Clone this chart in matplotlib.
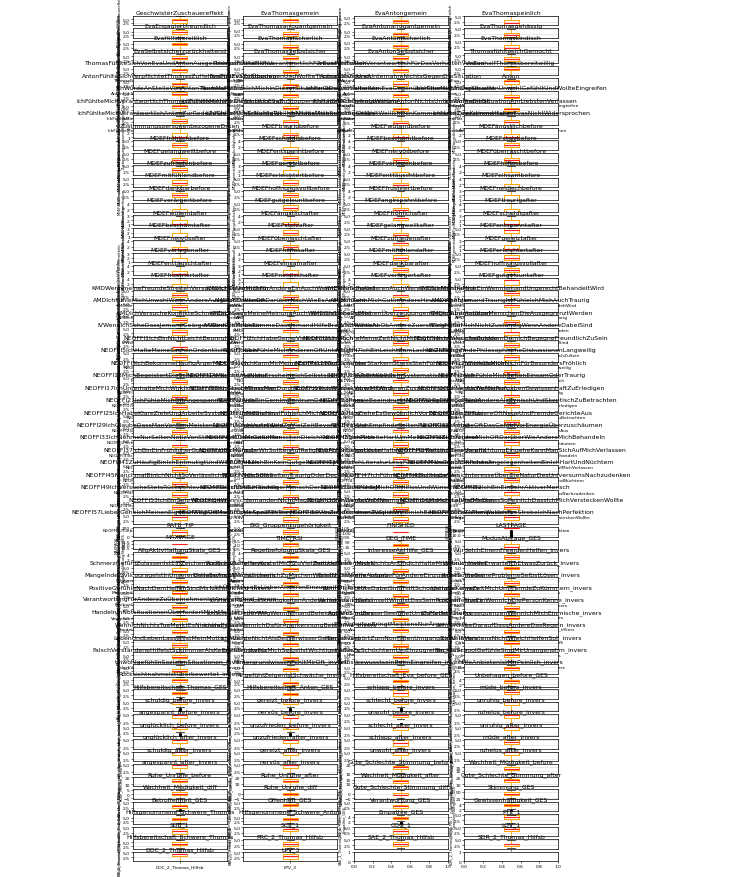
import matplotlib
matplotlib.use("Agg")
import matplotlib.pyplot as plt

plt.rcParams['font.family'] = ['DejaVu Sans']

names = [
    # rows 1-4
    "GeschwisterZuschauereffekt", "EvaThomasgemein", "EvaAntongemein", "EvaThomaspeinlich",
    "EvaEngagiertfreundlich", "EvaThomasarrogantgemein", "EvaAntonarrogantgemein", "EvaThomasgehässig",
    "EvaHilfsbereitlich", "EvaThomaslächerlich", "EvaAntonlächerlich", "EvaThomaskindisch",
    "EvaSelbstsicherzurückhaltend", "EvaThomasSelbstsicher", "EvaAntonSelbstsicher", "ThomasfühltesichGemocht",
    # rows 5-9
    "ThomasFühlteSichVonEvaUndAntonAusgeschlossenUndHilflos", "ThomasFühlteSichVerantwortlichFürEvasVerhalten",
    "AntonFühlteSichVerantwortlichFürDasVerhaltenVonEva", "AntonhalfThomasbereitwillig",
    "AntonFühlteSichVerpflichtetThomasZuHelfenUndEvaZuStoppen", "EvaFühlteSichÜberlegenUndWollteThomasBlamieren",
    "AntonSahZuUndUnternahmNichtsGegenDieSituation", "Anton",
    "IchWürdeAnStelleVonAntonThomasHelfen", "NochMalWürdeIchMichInDieserSituationGenausoVerhalten",
    "IchFandDasVerhaltenVonEvaGegenüberThomasUnangebracht", "IchHabeMichInDerSituationUnwohlGefühltUndWollteEingreifen",
    "IchFühlteMichVerantwortlichThomasZuHelfenAlsIchDieSituationSah", "IchFühlteMichVerantwortlichEvaZuStoppenAlsIchDieKommentareHörte",
    "IchHabeMichGefragtWarumAntonNichtsUnternommenHat", "IchWollteDieSituationAmLiebstenVerlassen",
    "IchFühlteMichVerantwortlichAntonZurRedeZuStellenAlsErNichtsTat", "IchFühlteMichSchuldigWeilIchNichtsUnternommenHabe",
    "IchHabeMichSchuldigGefühltWeilIchDenKommentarenZugestimmtHabe", "IchHabeDenKommentarenEvasNichtWidersprochen",
    # row 10 col 1
    "ZustimmungspersonenbezogeneDaten",
    # MDEF before (26)
    "MDEFtraurigbefore", "MDEFwütendbefore", "MDEFängstlichbefore", "MDEFfröhlichbefore",
    "MDEFschuldigbefore", "MDEFbeschämtbefore", "MDEFstolzbefore", "MDEFgelangweiltbefore",
    "MDEFentspanntbefore", "MDEFnervösbefore", "MDEFüberraschtbefore", "MDEFzufriedenbefore",
    "MDEFgereiztbefore", "MDEFverlegenbefore", "MDEFhilflosbefore", "MDEFmitfühlendbefore",
    "MDEFerleichtertbefore", "MDEFenttäuschtbefore", "MDEFeinsambefore", "MDEFdankbarbefore",
    "MDEFhoffnungsvollbefore", "MDEFfrustriertbefore", "MDEFneidischbefore", "MDEFverärgertbefore",
    "MDEFgutgelauntbefore", "MDEFangespanntbefore",
    # MDEF after (25)
    "MDEFtraurigafter", "MDEFwütendafter", "MDEFängstlichafter", "MDEFfröhlichafter",
    "MDEFschuldigafter", "MDEFbeschämtafter", "MDEFstolzafter", "MDEFgelangweiltafter",
    "MDEFentspanntafter", "MDEFnervösafter", "MDEFüberraschtafter", "MDEFzufriedenafter",
    "MDEFgereiztafter", "MDEFverlegenafter", "MDEFhilflosafter", "MDEFmitfühlendafter",
    "MDEFerleichtertafter", "MDEFenttäuschtafter", "MDEFeinsamafter", "MDEFdankbarafter",
    "MDEFhoffnungsvollafter", "MDEFfrustriertafter", "MDEFneidischafter", "MDEFverärgertafter",
    "MDEFgutgelauntafter",
    # rows 23-41 (76)
    "KMDWennmeineFreundeStreitenVersucheIchZuVermitteln", "KMDIchSetzeMichFürAndereEinAuchWennEsMirSchadet",
    "KMDIchHelfeAnderenAuchWennIchSieNichtKenne", "KMDIchMischeMichEinWennJemandUngerechtBehandeltWird",
    "AMDIchFühleMichUnwohlWennAndereAusgelachtWerden", "AMDIchDenkeOftDarüberNachWieEsAnderenGeht",
    "AMDIchKannMichGutInAndereHineinversetzen", "AMDWennJemandTraurigIstFühleIchMichAuchTraurig",
    "KMDIchVersucheKonflikteSchnellZuLösen", "KMDIchSageMeineMeinungAuchWennSieUnbeliebtIst",
    "KMDIchSteheZuMeinenÜberzeugungenGegenüberAnderen", "KMDIchUnterstützeMenschenDieAusgegrenztWerden",
    "IVWennIchSeheDassJemandGeärgertWirdGreifeIchEin", "IVWennIchMitbekommeDassJemandHilfeBrauchtHelfeIch",
    "IVIchWarteAbObAndereZuerstEingreifen", "IVIchFühleMichNichtZuständigWennAndereDabeiSind",
    "NEOFFI1IchBinNichtLeichtBeunruhigt", "NEOFFI2IchHabeGerneVieleLeuteUmMich",
    "NEOFFI3IchMöchteMeineZeitNichtMitTagträumenVerschwenden", "NEOFFI4IchVersucheZuJedemDemIchBegegneFreundlichZuSein",
    "NEOFFI5IchHalteMeineSachenOrdentlichUndSauber", "NEOFFI6IchFühleMichAnderenOftUnterlegen",
    "NEOFFI7IchBinLeichtZumLachenZuBringen", "NEOFFI8IchFindePhilosophischeDiskussionenLangweilig",
    "NEOFFI9IchBekommeHäufigÄrgerMitAnderen", "NEOFFI10IchKannMirMeineZeitRechtGutEinteilen",
    "NEOFFI11WennIchUnterStarkemStressStehFühleIchMichWieAufgelöst", "NEOFFI12IchHalteMichNichtFürBesondersFröhlich",
    "NEOFFI13MichBegeistertDieSchönheitDerKunstUndNatur", "NEOFFI14ManchenLeutenErscheineIchSelbstsüchtigUndÜberheblich",
    "NEOFFI15IchBinKeinSehrSystematischerMensch", "NEOFFI16IchFühleMichSeltenEinsamOderTraurig",
    "NEOFFI17IchUnterhalteMichWirklichGernMitAnderenMenschen", "NEOFFI18IchGlaubeDassManDurchKontroverseRednerVerwirrtWird",
    "NEOFFI19IchWürdeLieberMitAnderenZusammenarbeitenAlsWetteifern", "NEOFFI20IchVersucheAlleAufgabenGewissenhaftZuErledigen",
    "NEOFFI21IchFühleMichOftAngespanntUndNervös", "NEOFFI22IchBinGernImZentrumDesGeschehens",
    "NEOFFI23PoesieBeeindrucktMichWenigOderGarNicht", "NEOFFI24IchNeigeDazuAndereAlsZynischUndSkeptischZuBetrachten",
    "NEOFFI25IchHabeKlareZieleUndArbeiteSystematischAufSieHin", "NEOFFI26ManchmalFühleIchMichVölligWertlos",
    "NEOFFI27IchZieheEsGewöhnlichVorDingeAlleinZuTun", "NEOFFI28IchProbiereOftNeueUndFremdeGerichteAus",
    "NEOFFI29IchGlaubeDassManVonDenMeistenLeutenAusgenutztWird", "NEOFFI30IchVertrödeleZuVielZeitBevorIchBeginne",
    "NEOFFI31IchEmpfindeSeltenFurchtOderAngst", "NEOFFI32IchHabeOftDasGefühlVorEnergieÜberzuschäumen",
    "NEOFFI33IchNehmeNurSeltenNotizVonStimmungenOderGefühlen", "NEOFFI34DieMeistenMenschenDieIchKenneMögenMich",
    "NEOFFI35IchArbeiteHartUmMeineZieleZuErreichen", "NEOFFI36IchÄrgereMichOftDarüberWieAndereMichBehandeln",
    "NEOFFI37IchBinEinFröhlicherGutgelaunterMensch", "NEOFFI38IchGlaubeWirSolltenAufReligiöseAutoritätenHören",
    "NEOFFI39EinigeLeuteHaltenMichFürKaltUndBerechnend", "NEOFFI40WennIchEineVerpflichtungEingeheKannManSichAufMichVerlassen",
    "NEOFFI41ZuHäufigBinIchEntmutigtUndWillAufgeben", "NEOFFI42IchBinKeinGutgelaunterOptimist",
    "NEOFFI43WennIchLiteraturLeseFühleIchManchmalEinFrösteln", "NEOFFI44InGeschäftlichenAngelegenheitenBinIchHartUndNüchtern",
    "NEOFFI45ManchmalBinIchNichtSoVerlässlichWieIchSeinSollte", "NEOFFI46IchBinSeltenTraurigOderDeprimiert",
    "NEOFFI47IchFühreEinHektischesLeben", "NEOFFI48IchHabeWenigInteresseÜberDieNaturDesUniversumsNachzudenken",
    "NEOFFI49IchVersucheStetsRücksichtsvollUndSensibelZuHandeln", "NEOFFI50IchBinEinTüchtigerMenschDerSeineArbeitErledigt",
    "NEOFFI51IchFühleMichOftHilflosUndWünscheMirHilfe", "NEOFFI52IchBinEinSehrAktiverMensch",
    "NEOFFI53IchBinSehrWissbegierig", "NEOFFI54WennIchJemandenNichtMagZeigeIchIhmDasAuchOffen",
    "NEOFFI55IchWerdeWohlNiemalsOrdnungInMeinLebenBringen", "NEOFFI56ManchmalWarMirEtwasSoPeinlichDassIchMichVersteckenWollte",
    "NEOFFI57LieberGeheIchMeinenEigenenWegAlsEineGruppeAnzuführen", "NEOFFI58OftMachtEsMirSpaßMitTheorienOderAbstraktenIdeenZuSpielen",
    "NEOFFI59UmZuBekommenWasIchWillBinIchBereitAndereZuManipulieren", "NEOFFI60BeiAllemWasIchTueStrebeIchNachPerfektion",
    # rows 42-44 (12)
    "RATE_TIP", "BIG_Gruppenzugehörigkeit", "FINISHED", "LASTPAGE",
    "MAXPAGE", "TIME_RSI", "DEG_TIME", "ModusAbfrage_GES",
    "AllgAktivHaltungSkala_GES", "RegelbefolgungSkala_GES", "InteresseAnHilfe_GES", "WürdeIchEinemFremdenHelfen_invers",
    # rows 45-54 (38)
    "SchmerzGefühlZulassenIstEinZeichenVonSchwäche_invers", "AnderenZuHelfenKostetMichZuVielZeitUndKraft_invers",
    "FremdeGehenMichNichtsAnUndIchHalteMichRaus_invers", "WennIchHelfeErwarteIchEtwasZurück_invers",
    "MangelndeZivilcourageIstInUnsererGesellschaftNormal_invers", "IchHabeAngstMichLächerlichZuMachenWennIchEingreife_invers",
    "EsIstNichtMeineAufgabeFürAndereEinzustehen_invers", "JederSollteSeineProblemeSelbstLösen_invers",
    "PositiveGefühleNachDemHelfenSindMirNichtWichtig_invers", "IchÜberlasseEsLieberAnderenEinzugreifen_invers",
    "WennVieleLeuteDabeiSindHilftSchonJemand_invers", "IchHabeKeineZeitMichUmFremdeZuKümmern_invers",
    "VerantwortungFürAndereZuÜbernehmenIstAnstrengend_invers", "IchHalteMichAusStreitigkeitenAndererHeraus_invers",
    "WennJemandGehänseltWirdIstDasSeinProblem_invers", "IchGreifeNurEinWennIchDiePersonKenne_invers",
    "HandelnInNotsituationenÜberfordertMichMeistens_invers", "IchSchaueLieberWegWennJemandBeleidigtWird_invers",
    "AndereSindBesserGeeignetUmZuHelfen_invers", "IchFürchteDieKonsequenzenWennIchMichEinmische_invers",
    "WennIchNichtsTueMerktEsNiemand_invers", "IchHelfeNurWennIchDafürAnerkennungBekomme_invers",
    "EinzugreifenBringtMeistensNurÄrger_invers", "IchVertraueDaraufDassAndereDasRegeln_invers",
    "LebenUndLebenLassenIstMeinMotto_invers", "IchMöchteNichtAlsBesserwisserGelten_invers",
    "HänselnGehörtZumNormalenUmgangDazu_invers", "IchWeißMeistensNichtWieIchHelfenSoll_invers",
    "FalschVerstandeneHilfeIstSchlimmerAlsKeineHilfe_invers", "EselsbrückeFürMichSelbstIstWichtiger_invers",
    "IchBinZuSchüchternUmEinzugreifen_invers", "BackToSchoolGefühleSindMirUnangenehm_invers",
    "UnwohlgefühlInSozialenSituationen_invers", "HintergrundwissenFehltMirOft_invers",
    "SelbstbewusstseinBeimEingreifen_invers", "HilfeAnbietenIstMirPeinlich_invers",
    "RücksichtnahmeIstÜberbewertet_invers", "MitgefühlZeigenIstSchwäche_invers",
    # GES (4)
    "Hilfsbereitschaft_Eva_before_GES", "Unbehagen_before_GES",
    "Hilfsbereitschaft_Thomas_GES", "Hilfsbereitschaft_Anton_GES",
    # emotions (24)
    "schlapp_before_invers", "müde_before_invers",
    "schuldig_before_invers", "gereizt_before_invers", "schlecht_before_invers", "unruhig_before_invers",
    "angespannt_before_invers", "nervös_before_invers", "unwohl_before_invers", "ruhelos_before_invers",
    "unglücklich_before_invers", "unzufrieden_before_invers", "schlecht_after_invers", "unruhig_after_invers",
    "unglücklich_after_invers", "unzufrieden_after_invers", "schlapp_after_invers", "müde_after_invers",
    "schuldig_after_invers", "gereizt_after_invers", "unwohl_after_invers", "ruhelos_after_invers",
    "angespannt_after_invers", "nervös_after_invers",
    # scales (28)
    "Gute_Schlechte_Stimmung_before", "Wachheit_Müdigkeit_before",
    "Ruhe_Unruhe_before", "Ruhe_Unruhe_after", "Wachheit_Müdigkeit_after", "Gute_Schlechte_Stimmung_after",
    "Wachheit_Müdigkeit_diff", "Ruhe_Unruhe_diff", "Gute_Schlechte_Stimmung_diff", "Stimmung_GES",
    "Betroffenheit_GES", "Offenheit_GES", "Verantwortung_GES", "Gewissenhaftigkeit_GES",
    "Hilfsgenommene_Schwere_Thomas", "Hilfsgenommene_Schwere_Anton", "Empathie_GES", "PTE_1",
    "SDE_1", "SCE_1", "COG_1", "LOV_1",
    "Hilfsbereitschaft_Schwere_Thomas", "PRC_2_Thomas_Hilfsb", "SAE_2_Thomas_Hilfsb", "SDR_2_Thomas_Hilfsb",
    "DOC_2_Thomas_Hilfsb", "LPV_3",
]

whisker_low = [
    1, 1, 1, 1, 1, 1, 1, 1, 1, 1, 1, 1, 1, 1, 1, 1,
    1, 1, 1, 1, 1, 1, 1, 1, 1, 1, 1, 1, 1, 1, 1, 1, 1, 1, 1, 1,
    1,
    1, 1, 1, 1, 1, 1, 1, 1, 1, 1, 1, 1, 1, 1, 1, 1, 1, 1, 1, 1, 1, 1, 1, 1, 1, 1,
    1, 1, 1, 1, 1, 1, 1, 1, 1, 1, 1, 1, 1, 1, 1, 1, 1, 1, 1, 1, 1, 1, 1, 1, 1,
    1, 1, 1, 1, 1, 1, 1, 1, 1, 1, 1, 1, 1, 1, 1, 1, 1, 1, 1, 1,
    1, 1, 1, 1, 1, 1, 1, 1, 1, 1, 1, 1, 1, 1, 1, 1, 1, 1, 1, 1,
    1, 1, 1, 1, 1, 1, 1, 1, 1, 1, 1, 1, 1, 1, 1, 1, 1, 1, 1, 1,
    1, 1, 1, 1, 1, 1, 1, 1, 1, 1, 1, 1, 1, 1, 1, 1,
    0, 1, 1, 14, 14, 0.4, 10, 1, 1.5, 1, 1, 1,
    1, 1, 1, 1, 1, 1, 1, 1, 1, 1, 1, 1, 1, 1, 1, 1, 1, 1, 1,
    1, 1, 1, 1, 1, 1, 1, 1, 1, 1, 1, 1, 1, 1, 1, 1, 1, 1, 1,
    1.5, 1.2, 1.5, 1.0,
    2, 1, 3, 3, 3, 2, 2, 2, 3, 2, 3, 3, 2, 2, 2, 2, 2, 1, 2, 2, 2, 2, 2, 2,
    10, 6, 8, 7, 6, 8, -5, -5, -5, 25, 1.5, 1.5, 1, 2, 1, 1, 2, 1, 1, 1, 1, 1, 1, 1, 1, 1, 1, 1,
]

quart1 = [
    2, 3, 2, 1, 3, 2, 2, 1, 4, 2, 2, 1, 3, 3, 3, 2,
    3, 2, 3, 4, 2, 1, 2, 3, 4, 3, 3, 2, 4, 3, 2, 2, 2, 1, 1, 1,
    1,
    1, 1, 1, 2, 1, 1, 2, 1, 2, 1, 1, 2, 1, 1, 1, 2, 2, 1, 1, 2, 2, 1, 1, 1, 2, 1,
    1, 1, 1, 3, 1, 1, 2, 1, 3, 1, 1, 3, 1, 1, 1, 2, 2, 1, 1, 2, 2, 1, 1, 1, 2,
    2, 1, 2, 3, 2, 2, 1, 3, 2, 2, 3, 1, 2, 3, 2, 2, 1, 2, 3, 2,
    2, 3, 1, 2, 2, 3, 2, 1, 2, 2, 3, 2, 1, 2, 3, 2, 2, 1, 2, 3,
    2, 2, 3, 1, 2, 2, 3, 2, 2, 1, 2, 3, 2, 2, 1, 3, 2, 2, 3, 2,
    1, 2, 2, 3, 2, 1, 2, 3, 2, 2, 1, 2, 3, 2, 2, 3,
    20, 2, 1, 14, 14, 0.8, 25, 1, 2.5, 2.0, 2, 2,
    2, 3, 2, 4, 3, 2, 3, 2, 4, 3, 2, 3, 3, 2, 4, 2, 3, 2, 3,
    4, 3, 2, 4, 3, 2, 3, 2, 4, 3, 2, 3, 4, 2, 3, 2, 3, 4, 2,
    3.0, 2.6, 3.0, 2.5,
    3, 3, 4, 4, 4, 4, 4, 4, 4, 4, 4, 4, 4, 4, 4, 4, 3, 3, 4, 4, 4, 4, 4, 4,
    15, 11, 13, 13, 11, 14, -1, -2, -2, 38, 2.5, 3, 2.3, 3.2, 3, 3, 3, 3, 2, 3, 2, 3, 3, 2, 2, 2, 3, 2,
]

median = [
    4, 4, 3, 2, 5, 3, 3, 2, 5, 3, 3, 2, 4, 4, 4, 3,
    4, 3, 4, 5, 3, 2, 3, 5, 5, 4, 4, 3, 5, 4, 3, 3, 3, 2, 2, 2,
    1,
    2, 1, 1, 3, 1, 1, 3, 2, 3, 2, 2, 3, 1, 1, 1, 3, 3, 2, 1, 3, 3, 1, 1, 1, 3, 2,
    1, 1, 1, 4, 1, 1, 3, 2, 4, 1, 2, 4, 1, 1, 1, 3, 3, 1, 1, 3, 3, 1, 1, 1, 4,
    3, 2, 3, 4, 3, 3, 2, 4, 3, 3, 4, 2, 3, 4, 3, 3, 2, 3, 4, 3,
    3, 4, 2, 3, 3, 4, 3, 2, 3, 3, 4, 3, 2, 3, 4, 3, 3, 2, 3, 4,
    3, 3, 4, 2, 3, 3, 4, 3, 3, 2, 3, 4, 3, 3, 2, 4, 3, 3, 4, 3,
    2, 3, 3, 4, 3, 2, 3, 4, 3, 3, 2, 3, 4, 3, 3, 4,
    50, 3, 1, 14, 14, 1.0, 32, 2, 3.0, 2.5, 3, 3,
    3, 4, 3, 5, 4, 3, 4, 3, 5, 4, 3, 4, 4, 3, 5, 3, 4, 3, 4,
    5, 4, 3, 5, 4, 3, 4, 3, 5, 4, 3, 4, 5, 3, 4, 3, 4, 5, 3,
    3.5, 3.1, 3.5, 3.0,
    4, 4, 5, 5, 5, 5, 5, 4, 5, 5, 5, 5, 5, 5, 5, 5, 4, 4, 5, 5, 5, 5, 5, 5,
    17, 13, 15, 15, 13, 16, 0, 0, -1, 43, 3.2, 3.5, 3, 3.6, 4, 4, 3.5, 4, 3, 4, 3, 4, 4, 3, 3, 3, 4, 3,
]

quart3 = [
    5, 5, 4, 3, 6, 4, 4, 3, 6, 4, 4, 3, 5, 5, 5, 4,
    5, 4, 5, 6, 4, 3, 5, 6, 6, 5, 5, 4, 6, 5, 4, 4, 4, 3, 3, 3,
    2,
    3, 2, 2, 4, 2, 2, 4, 3, 4, 3, 3, 4, 2, 2, 2, 4, 4, 3, 2, 4, 4, 2, 2, 2, 4, 3,
    2, 2, 2, 4, 2, 2, 4, 3, 5, 2, 3, 4, 2, 2, 2, 4, 4, 2, 2, 4, 4, 2, 2, 2, 4,
    4, 3, 3, 5, 4, 4, 3, 4, 4, 3, 5, 3, 4, 4, 4, 3, 2, 4, 5, 4,
    4, 4, 3, 4, 3, 5, 4, 3, 4, 4, 4, 4, 3, 4, 5, 3, 4, 3, 4, 4,
    4, 4, 5, 3, 4, 4, 4, 4, 3, 3, 4, 5, 4, 4, 3, 5, 4, 3, 4, 4,
    3, 4, 4, 5, 4, 3, 4, 4, 4, 3, 3, 4, 5, 4, 4, 5,
    70, 4, 1, 14, 14, 1.2, 40, 3, 3.5, 3.0, 4, 4,
    5, 5, 4, 6, 5, 4, 5, 4, 6, 5, 4, 5, 5, 4, 6, 4, 5, 4, 5,
    6, 5, 4, 6, 5, 4, 5, 4, 6, 5, 4, 5, 6, 4, 5, 4, 5, 6, 4,
    4.0, 3.7, 4.0, 3.6,
    5, 5, 5, 5, 5, 5, 5, 5, 5, 5, 5, 5, 5, 5, 5, 5, 5, 5, 5, 5, 5, 5, 5, 5,
    18, 15, 17, 17, 15, 18, 2, 1, 1, 48, 3.8, 4, 3.6, 4, 5, 5, 3.9, 5, 4, 4, 4, 5, 5, 4, 4, 3, 4, 4,
]

whisker_high = [
    7, 7, 6, 5, 7, 6, 7, 5, 7, 7, 6, 5, 7, 7, 7, 6,
    7, 7, 7, 7, 7, 6, 7, 7, 7, 7, 7, 7, 7, 7, 7, 7, 6, 5, 6, 5,
    3,
    5, 4, 4, 5, 4, 4, 5, 5, 5, 5, 5, 5, 3, 4, 4, 5, 5, 5, 4, 5, 5, 4, 3, 4, 5, 5,
    4, 3, 4, 5, 3, 3, 5, 5, 5, 4, 5, 5, 3, 3, 4, 5, 5, 4, 3, 5, 5, 4, 3, 4, 5,
    5, 5, 5, 5, 5, 5, 5, 5, 5, 5, 5, 5, 5, 5, 5, 5, 5, 5, 5, 5,
    5, 5, 5, 5, 5, 5, 5, 5, 5, 5, 5, 5, 5, 5, 5, 5, 5, 5, 5, 5,
    5, 5, 5, 5, 5, 5, 5, 5, 5, 5, 5, 5, 5, 5, 5, 5, 5, 5, 5, 5,
    5, 5, 5, 5, 5, 5, 5, 5, 5, 5, 5, 5, 5, 5, 5, 5,
    100, 5, 1, 14, 14, 1.6, 60, 5, 4.5, 4.0, 5, 5,
    7, 7, 7, 7, 7, 7, 7, 6, 7, 7, 7, 7, 7, 7, 7, 6, 7, 7, 7,
    7, 7, 7, 7, 7, 6, 7, 7, 7, 7, 7, 7, 7, 7, 7, 7, 6, 7, 7,
    5.0, 4.8, 5.0, 5.0,
    5, 5, 5, 5, 5, 5, 5, 5, 5, 5, 5, 5, 5, 5, 5, 5, 5, 5, 5, 5, 5, 5, 5, 5,
    20, 19, 20, 20, 19, 20, 5, 4, 4, 58, 5, 5, 5, 4.8, 7, 7, 4.8, 5, 5, 5, 5, 5, 7, 5, 5, 5, 5, 5,
]

flier_names = ["schuldig_before_invers", "gereizt_before_invers", "unglücklich_before_invers",
               "unzufrieden_before_invers", "schlecht_before_invers", "unwohl_before_invers",
               "Betroffenheit_GES", "Hilfsbereitschaft_Thomas_GES", "LASTPAGE",
               "Empathie_GES", "Gewissenhaftigkeit_GES", "Offenheit_GES"]
flier_values = [[1, 2], [1, 2], [1, 2], [1, 2], [1, 2], [1],
                [1.0, 1.2], [1.0], [9, 10, 11, 12],
                [1.2, 1.5], [1.4], [1.0]]

N_ROWS, N_COLS = 68, 4

lens = {len(names), len(whisker_low), len(quart1), len(median), len(quart3), len(whisker_high)}
if len(lens) != 1:
    raise ValueError("length mismatch: %s" % [len(names), len(whisker_low), len(quart1),
                                                len(median), len(quart3), len(whisker_high)])

fliers_by_name = dict(zip(flier_names, flier_values))

fig, axes = plt.subplots(N_ROWS, N_COLS, figsize=(7.39, 8.78), dpi=100)
fig.subplots_adjust(left=0.18, right=0.755, top=0.981, bottom=0.018, wspace=0.18, hspace=0.30)

for i, ax in enumerate(axes.flat):
    for s in ax.spines.values():
        s.set_linewidth(0.5)
    ax.tick_params(labelsize=3.2, length=1.5, width=0.4, pad=0.8)
    if i >= len(names):
        continue
    stats = [dict(whislo=whisker_low[i], q1=quart1[i], med=median[i], q3=quart3[i],
                  whishi=whisker_high[i], fliers=fliers_by_name.get(names[i], []),
                  label=names[i])]
    ax.bxp(stats, positions=[1], widths=0.16,
           boxprops=dict(color='#FFA500', linewidth=0.7),
           medianprops=dict(color='#FF2020', linewidth=0.8),
           whiskerprops=dict(color='#FFA500', linewidth=0.6),
           capprops=dict(color='#333333', linewidth=0.6),
           flierprops=dict(marker='o', markersize=1.3, markerfacecolor='black',
                           markeredgecolor='black', linestyle='none'))
    ax.set_xlim(0.5, 1.5)
    ax.yaxis.grid(True, color='#d8d8d8', linewidth=0.4)
    ax.set_axisbelow(True)
    ax.set_title(names[i], fontsize=4.4, pad=1)
    ax.set_ylabel(names[i], fontsize=2.6, labelpad=1)
    ax.tick_params(axis='x', labelsize=3.2)

fig.savefig("out.png", dpi=100)
